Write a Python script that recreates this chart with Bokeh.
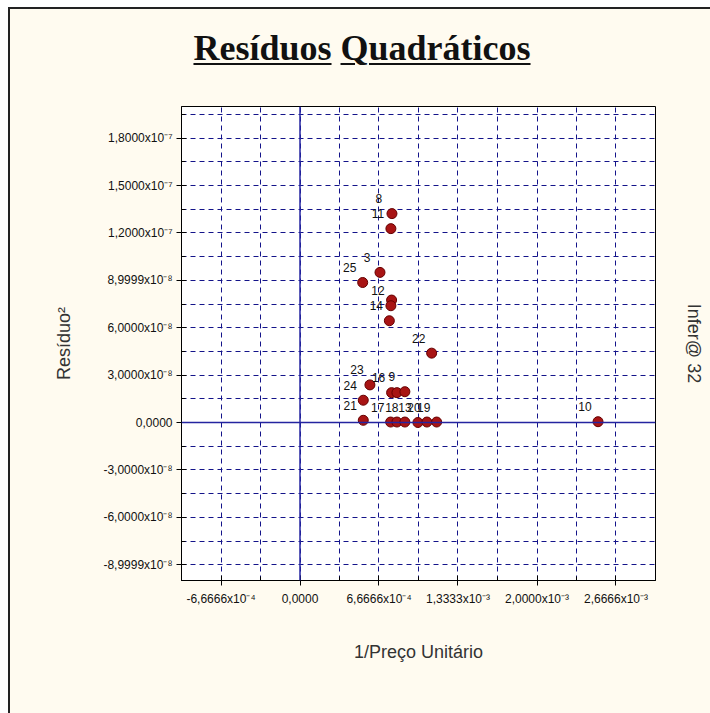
from bokeh.plotting import figure
from bokeh.layouts import column
from bokeh.models import (FixedTicker, LinearAxis, LabelSet, ColumnDataSource,
                          Span, Range1d, CustomJSTickFormatter, Div)
from bokeh.core.properties import value
from bokeh.embed import file_html
from bokeh.resources import INLINE

# ---- data ----
point_labels = ["8", "11", "3", "25", "", "12", "14", "22", "23", "24", "16", "", "9",
                "21", "17", "", "18", "13", "20", "19", "10"]
x_inv_price = [7.76e-4, 7.67e-4, 6.75e-4, 5.29e-4, 7.73e-4, 7.67e-4, 7.54e-4, 1.111e-3,
               5.90e-4, 5.34e-4, 7.73e-4, 8.18e-4, 8.85e-4, 5.34e-4, 7.65e-4, 8.18e-4,
               8.85e-4, 9.95e-4, 1.071e-3, 1.153e-3, 2.515e-3]
y_resid_sq = [1.322e-7, 1.227e-7, 9.50e-8, 8.86e-8, 7.75e-8, 7.39e-8, 6.44e-8, 4.39e-8,
              2.38e-8, 1.41e-8, 1.89e-8, 1.89e-8, 1.95e-8, 1.4e-9, 3e-10, 3e-10,
              3e-10, 0.0, 3e-10, 3e-10, 5e-10]

x_ticks = [-6.6666e-4, 0.0, 6.6666e-4, 1.3333e-3, 2.0e-3, 2.6666e-3]
x_tick_labels = ["-6,6666x10⁻⁴", "0,0000", "6,6666x10⁻⁴", "1,3333x10⁻³",
                 "2,0000x10⁻³", "2,6666x10⁻³"]
x_minor = [-1.0e-3, -3.3333e-4, 3.3333e-4, 1.0e-3, 1.6667e-3, 2.3333e-3, 3.0e-3]

y_ticks = [-9e-8, -6e-8, -3e-8, 0.0, 3e-8, 6e-8, 9e-8, 1.2e-7, 1.5e-7, 1.8e-7]
y_tick_labels = ["-8,9999x10⁻⁸", "-6,0000x10⁻⁸", "-3,0000x10⁻⁸", "0,0000",
                 "3,0000x10⁻⁸", "6,0000x10⁻⁸", "8,9999x10⁻⁸", "1,2000x10⁻⁷",
                 "1,5000x10⁻⁷", "1,8000x10⁻⁷"]
y_minor = [-7.5e-8, -4.5e-8, -1.5e-8, 1.5e-8, 4.5e-8, 7.5e-8, 1.05e-7, 1.35e-7,
           1.65e-7, 1.95e-7]

title_words = ["Resíduos", "Quadráticos"]
x_title = "1/Preço Unitário"
y_title = "Resíduo²"
side_text = "Infer@ 32"

# ---- styling ----
CREAM = "#FFFBF0"
NAVY = "#14148A"
ZERO = "#2424A0"
FONT = "Liberation Sans"

PW, PH = 700, 624          # figure canvas
DIV_H = 80
FL, FW = 171, 474          # frame left (in canvas) and frame size
FT = 17

title_html = (
    '<div style="width:%dpx;text-align:center;padding-top:19px;padding-left:4px;'
    'font-family:\'Liberation Serif\',serif;font-weight:bold;font-size:36px;'
    'color:#111;line-height:41px;">%s</div>'
    % (PW, " ".join('<span style="text-decoration:underline;'
                    'text-decoration-thickness:2px;text-underline-offset:3px;">%s</span>' % w
                    for w in title_words))
)
title_div = Div(text=title_html, width=PW, height=DIV_H,
                styles={"background-color": CREAM}, margin=(0, 0, 0, 0))

p = figure(width=PW, height=PH, output_backend="svg", toolbar_location=None,
           x_range=Range1d(-1.0e-3, 3.0e-3), y_range=Range1d(-1.0e-7, 2.0e-7),
           min_border_left=FL, min_border_right=PW - FL - FW,
           min_border_top=FT, min_border_bottom=PH - FT - FW, margin=(0, 0, 0, 0))
p.border_fill_color = CREAM
p.background_fill_color = "white"
p.outline_line_color = "black"
p.outline_line_width = 1

xt = FixedTicker(ticks=x_ticks, minor_ticks=x_minor)
yt = FixedTicker(ticks=y_ticks, minor_ticks=y_minor)

JS = """
let best = 0;
for (let i = 0; i < tvals.length; i++) {
  if (Math.abs(tvals[i] - tick) < Math.abs(tvals[best] - tick)) best = i;
}
return tlabs[best];
"""

for ax, tk, labs, title in ((p.xaxis[0], xt, x_tick_labels, x_title),
                            (p.yaxis[0], yt, y_tick_labels, y_title)):
    ax.ticker = tk
    ax.formatter = CustomJSTickFormatter(args=dict(tvals=list(tk.ticks), tlabs=labs), code=JS)
    ax.axis_line_color = "black"
    ax.major_tick_line_color = "black"
    ax.minor_tick_line_color = "black"
    ax.major_tick_in = 5
    ax.major_tick_out = 5
    ax.minor_tick_in = 4
    ax.minor_tick_out = 0
    ax.major_label_text_font = FONT
    ax.major_label_text_font_size = "12px"
    ax.major_label_text_color = "#111111"
    ax.axis_label = title
    ax.axis_label_text_font = FONT
    ax.axis_label_text_font_size = "18px"
    ax.axis_label_text_font_style = "normal"
    ax.axis_label_text_color = "#333333"

p.xaxis.major_label_standoff = 6
p.xaxis.axis_label_standoff = 33
p.yaxis.major_label_standoff = 4
p.yaxis.axis_label_standoff = 26

for g, tk in ((p.xgrid[0], xt), (p.ygrid[0], yt)):
    g.ticker = tk
    g.grid_line_color = NAVY
    g.grid_line_dash = "5 4"
    g.grid_line_width = 1
    g.minor_grid_line_color = NAVY
    g.minor_grid_line_dash = "5 4"
    g.minor_grid_line_width = 1

# zero lines
p.add_layout(Span(location=0, dimension="height", line_color=ZERO, line_width=1.5))
p.add_layout(Span(location=0, dimension="width", line_color=ZERO, line_width=1.5))

# right-side text as an axis label of an axis with no ticks
side = LinearAxis(axis_label=side_text, ticker=FixedTicker(ticks=[]), axis_line_color=None,
                  major_tick_line_color=None, minor_tick_line_color=None,
                  axis_label_standoff=28,
                  axis_label_text_font=FONT, axis_label_text_font_size="18px",
                  axis_label_text_font_style="normal", axis_label_text_color="#333333")
p.add_layout(side, "right")

src = ColumnDataSource(dict(x=x_inv_price, y=y_resid_sq, lab=point_labels))
p.scatter("x", "y", source=src, size=10, fill_color="#A81414", line_color="#650000",
          line_width=1)
p.add_layout(LabelSet(x="x", y="y", text="lab", source=src, x_offset=-13, y_offset=15,
                      text_align="center", text_baseline="middle",
                      text_font=value(FONT), text_font_size=value("12px"),
                      text_color="#111111"))

layout = column(title_div, p, spacing=0, margin=(7, 0, 0, 8),
                styles={"border-top": "2px solid #222", "border-left": "2px solid #222",
                        "background-color": CREAM})

open("out.html", "w").write(file_html(layout, INLINE))
